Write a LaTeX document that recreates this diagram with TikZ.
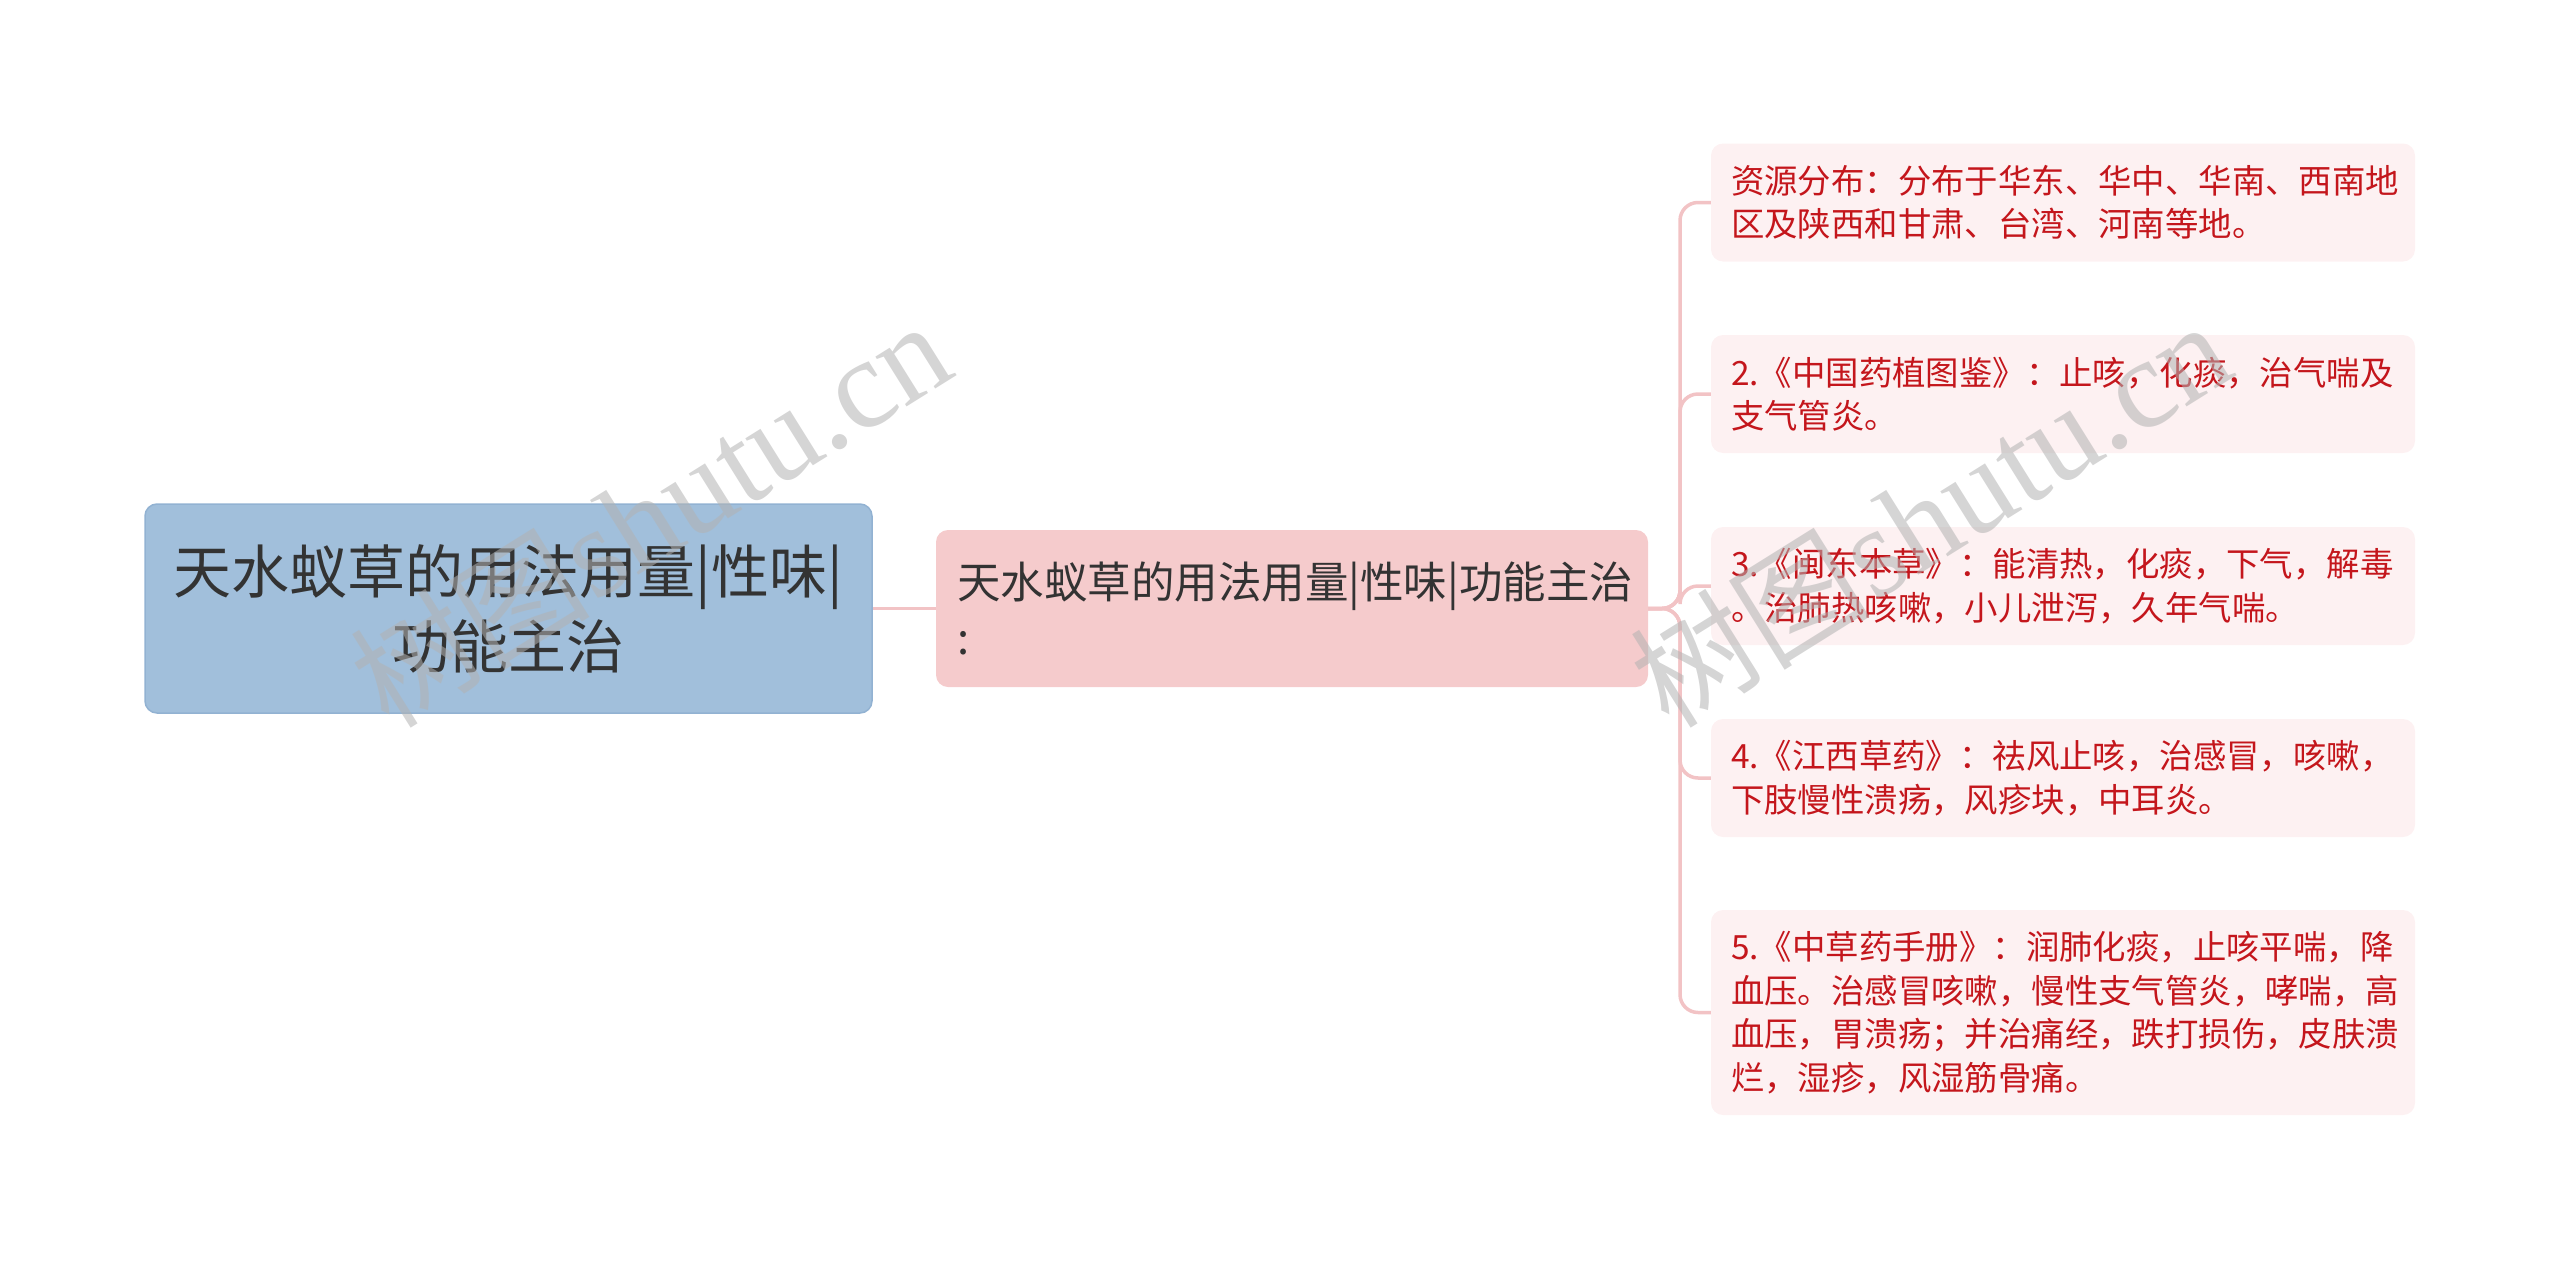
\documentclass[tikz,border=0pt]{standalone}
\usepackage{fontspec}
\newfontfamily\cjk{Noto Sans CJK SC}
\newfontfamily\wmserif{Liberation Serif}
\usetikzlibrary{calc}
\definecolor{rootfill}{HTML}{A1BFDB}
\definecolor{rootdraw}{HTML}{92B2D2}
\definecolor{midfill}{HTML}{F5CBCC}
\definecolor{leaffill}{HTML}{FDF1F2}
\definecolor{leaftext}{HTML}{C4161C}
\definecolor{linkc}{HTML}{F2C3C5}
\definecolor{darktext}{HTML}{333333}
\begin{document}
\begin{tikzpicture}[x=1pt,y=-1pt,
  rootbox/.style={fill=rootfill,draw=rootdraw,line width=1.5pt,rounded corners=12pt,
    minimum width=727pt,minimum height=209pt,inner sep=0pt,align=center,text=darktext,
    font={\cjk\fontsize{58}{75}\selectfont}},
  midbox/.style={fill=midfill,draw=none,rounded corners=12pt,
    minimum width=712pt,minimum height=157pt,inner xsep=21pt,inner ysep=0pt,text width=670pt,align=left,text=darktext,
    font={\cjk\fontsize{43.5}{56}\selectfont}},
  leafbox/.style={fill=leaffill,draw=none,rounded corners=12pt,
    minimum width=704pt,minimum height=118pt,inner xsep=20pt,inner ysep=0pt,text width=664pt,align=left,text=leaftext,
    font={\cjk\fontsize{33.4}{43.5}\selectfont}},
  link/.style={draw=linkc,line width=3.5pt},
  wm/.style={text=black!30,opacity=0.55,rotate=32,inner sep=0pt}
]
\useasboundingbox (0,0) rectangle (2560,1261);

\node[rootbox] (root) at (508.5,608.5) {天水蚁草的用法用量|性味|\\功能主治};
\node[midbox] (mid) at (1292,608.5) {天水蚁草的用法用量|性味|功能主治\\:};

\node[leafbox] (l1) at (2063,202.5) {资源分布：分布于华东、华中、华南、西南地\\区及陕西和甘肃、台湾、河南等地。};
\node[leafbox] (l2) at (2063,394) {2.《中国药植图鉴》：止咳，化痰，治气喘及\\支气管炎。};
\node[leafbox] (l3) at (2063,586) {3.《闽东本草》：能清热，化痰，下气，解毒\\。治肺热咳嗽，小儿泄泻，久年气喘。};
\node[leafbox] (l4) at (2063,778) {4.《江西草药》：祛风止咳，治感冒，咳嗽，\\下肢慢性溃疡，风疹块，中耳炎。};
\node[leafbox,minimum height=205pt] (l5) at (2063,1012.5) {5.《中草药手册》：润肺化痰，止咳平喘，降\\血压。治感冒咳嗽，慢性支气管炎，哮喘，高\\血压，胃溃疡；并治痛经，跌打损伤，皮肤溃\\烂，湿疹，风湿筋骨痛。};

\coordinate (j) at (1680,608.5);
\draw[link] (root.east) -- (mid.west);
\foreach \n in {l1,l2,l3,l4,l5}
  \draw[link,rounded corners=18pt] (mid.east) -- (j) |- (\n.west);

\node[wm] (wm1) at (650,514) {{\cjk\fontsize{120}{130}\selectfont 树图}\,{\wmserif\fontsize{128}{140}\selectfont shutu.cn}};
\node[wm] (wm2) at (1930,514) {{\cjk\fontsize{120}{130}\selectfont 树图}\,{\wmserif\fontsize{128}{140}\selectfont shutu.cn}};
\end{tikzpicture}
\end{document}
